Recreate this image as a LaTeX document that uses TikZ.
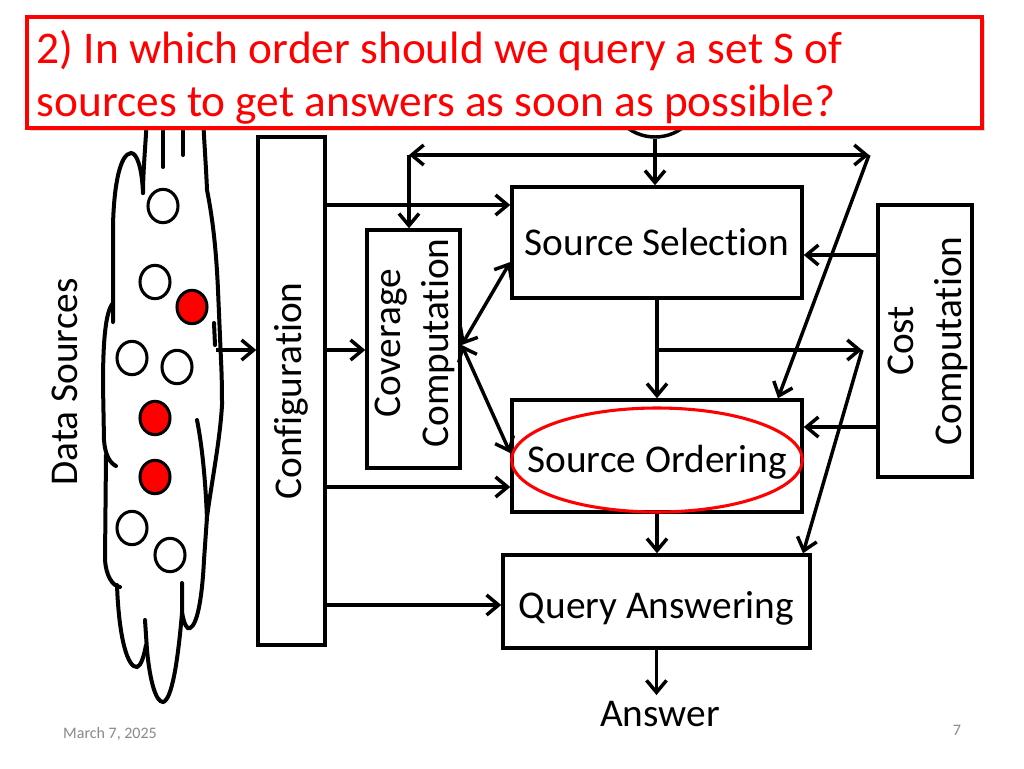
\documentclass[tikz,border=0pt]{standalone}
\usepackage{fontspec}
\setmainfont[Ligatures=NoCommon]{Carlito}
\usetikzlibrary{arrows.meta,shadows,calc}
\definecolor{tred}{RGB}{255,0,0}
\definecolor{dgray}{RGB}{137,137,137}
\begin{document}
\begin{tikzpicture}[x=0.75pt,y=-0.75pt,
  line width=2.6pt,
  box/.style={draw, line width=2.6pt, fill=white, inner sep=0pt},
  lbl/.style={font=\fontsize{29.5}{36}\selectfont, align=center},
  boxlbl/.style={lbl, text height=24.8pt, text depth=6pt},
  boxlbllow/.style={lbl, text height=24.8pt, text depth=0pt},
  arr/.style={-{Straight Barb[length=9pt,width=15pt]}},
  arrb/.style={{Straight Barb[length=9pt,width=15pt]}-{Straight Barb[length=9pt,width=15pt]}},
  cloudline/.style={line width=3pt, line cap=round},
  wcirc/.style={draw=black, line width=2.3pt, fill=white},
  rcirc/.style={draw=black, line width=2.3pt, fill=tred}]
\fill[white] (0,0) rectangle (1024,768);
\useasboundingbox (0,0) rectangle (1024,768);

% cloud of data sources
\begin{scope}[cloudline]
\draw (147,115) .. controls (146,140) and (143,170) .. (143,193);
\draw (143,193) .. controls (142,168) and (137,153) .. (131,153) .. controls (120,154) and (114,185) .. (113,225) -- (113,322);
\draw (113,303) .. controls (105,312) and (103,345) .. (103,385) -- (104,440) .. controls (105,455) and (110,463) .. (116,466);
\draw (106,455) -- (105,560) .. controls (106,575) and (112,586) .. (120,587);
\draw (117,585) .. controls (119,640) and (128,668) .. (137,667) .. controls (141,666) and (144,656) .. (146,645);
\draw (145,620) -- (147,650) .. controls (150,682) and (156,702) .. (163,702) .. controls (172,700) and (178,660) .. (182,613);
\draw (182,583) -- (182,612) .. controls (184,624) and (187,630) .. (190,628) .. controls (197,625) and (202,600) .. (204,560) -- (207,517);
\draw (197,420) .. controls (203,450) and (206,490) .. (207,520);
\draw (203,115) .. controls (204,140) and (206,165) .. (207,190) .. controls (212,215) and (216,245) .. (218,290) -- (221,360) .. controls (222,380) and (222,395) .. (222,405) .. controls (220,440) and (212,480) .. (207,517);
\draw (214,323) -- (215,345);
\draw (163,115) -- (163,167);
\draw (183,115) -- (183,155);
\end{scope}
\draw[wcirc] (163,206) ellipse [x radius=11.25pt, y radius=12.5pt];
\draw[wcirc] (155,282) ellipse [x radius=11.25pt, y radius=12.5pt];
\draw[rcirc] (192,307) ellipse [x radius=11.25pt, y radius=12.5pt];
\draw[wcirc] (132,358) ellipse [x radius=11.25pt, y radius=12.5pt];
\draw[wcirc] (177,367) ellipse [x radius=11.25pt, y radius=12.5pt];
\draw[rcirc] (155,418) ellipse [x radius=11.25pt, y radius=12.5pt];
\draw[rcirc] (155,477) ellipse [x radius=11.25pt, y radius=12.5pt];
\draw[wcirc] (132,528) ellipse [x radius=11.25pt, y radius=12.5pt];
\draw[wcirc] (170,555) ellipse [x radius=11.25pt, y radius=12.5pt];

\node[lbl, rotate=90] (ds) at (65,382) {Data Sources};

% boxes
\node[box, boxlbl, minimum width=217.5pt, minimum height=83.25pt] (ss) at (657,242.5) {Source Selection};
\node[box, boxlbllow, minimum width=217.5pt, minimum height=84pt] (so) at (657,456) {Source Ordering};
\node[box, boxlbllow, minimum width=230.25pt, minimum height=69.75pt] (qa) at (656.5,601.5) {Query Answering};
\node[box, minimum width=50.25pt, minimum height=381pt] (cfg) at (291.5,391) {};
\node[lbl, rotate=90] (cfgt) at (cfg.center) {Configuration};
\node[box, minimum width=69.75pt, minimum height=178.5pt] (cov) at (413.5,349) {};
\node[lbl, rotate=90] (covt) at (415,343) {Coverage\\Computation};
\node[box, minimum width=70.5pt, minimum height=204pt] (cost) at (925,341) {};
\node[lbl, rotate=90] (costt) at (928,341) {Cost\\Computation};
\node[lbl] (ans) at (660,714) {Answer};
\node[draw, circle, minimum size=69pt, line width=2.6pt] (q) at (655,91) {};

% helper coordinates
\coordinate (r205) at (0,205);
\coordinate (r255) at (0,255);
\coordinate (r262) at (0,262);
\coordinate (r345) at (0,345);
\coordinate (r350) at (0,350);
\coordinate (r427) at (0,427);
\coordinate (r453) at (0,453);
\coordinate (r487) at (0,487);
\coordinate (r605) at (0,605);
\coordinate (c778) at (778,0);
\coordinate (c803) at (803,0);
\coordinate (tl) at (409,155);
\coordinate (tr) at (869,155);
\coordinate (mr) at (862,350);
\coordinate (clR) at (216,350);

% connectors
\draw[arrb] (tl) -- (tr);
\draw[arr] (tl) -- (tl |- cov.north);
\draw[arr] (tr) -- (so.north -| c778);
\draw[arr] (q.south) -- (q.south |- ss.north);
\draw[arr] (clR) -- (cfg.west |- clR);
\draw[arr] (cfg.east |- r350) -- (cov.west |- r350);
\draw[arr] (cfg.east |- r205) -- (ss.west |- r205);
\draw[arr] (cfg.east |- r487) -- (so.west |- r487);
\draw[arr] (cfg.east |- r605) -- (qa.west |- r605);
\draw[arrb] (cov.east |- r345) -- (ss.west |- r262);
\draw[arrb] (cov.east |- r345) -- (so.west |- r453);
\draw[arr] (ss.south) -- (so.north);
\draw[arr] (ss.south |- mr) -- (mr);
\draw[arr] (mr) -- (qa.north -| c803);
\draw[arr] (cost.west |- r255) -- (ss.east |- r255);
\draw[arr] (cost.west |- r427) -- (so.east |- r427);
\draw[arr] (so.south) -- (so.south |- qa.north);
\draw[arr] (qa.south) -- (qa.south |- ans.north);

% red highlight ellipse
\draw[tred, line width=2.3pt] (657,460) ellipse [x radius=109pt, y radius=39pt];

% title box
\node[draw=tred, line width=2.3pt, fill=white, minimum width=716.25pt, minimum height=83.25pt,
  drop shadow={opacity=0.3, shadow xshift=2pt, shadow yshift=-2pt}] (tb) at (504.5,72.5) {};
\node[anchor=base west, text=tred, font=\fontsize{34}{40}\selectfont, inner sep=0pt] (t1) at (35,63) {2) In which order should we query a set S of};
\node[anchor=base west, text=tred, font=\fontsize{34}{40}\selectfont, inner sep=0pt] (t2) at (35,116) {sources to get answers as soon as possible?};

% footer
\node[text=dgray, font=\fontsize{12}{14}\selectfont] (date) at (110,734) {March 7, 2025};
\node[text=dgray, font=\fontsize{12}{14}\selectfont] (pg) at (957,730) {7};
\end{tikzpicture}
\end{document}
